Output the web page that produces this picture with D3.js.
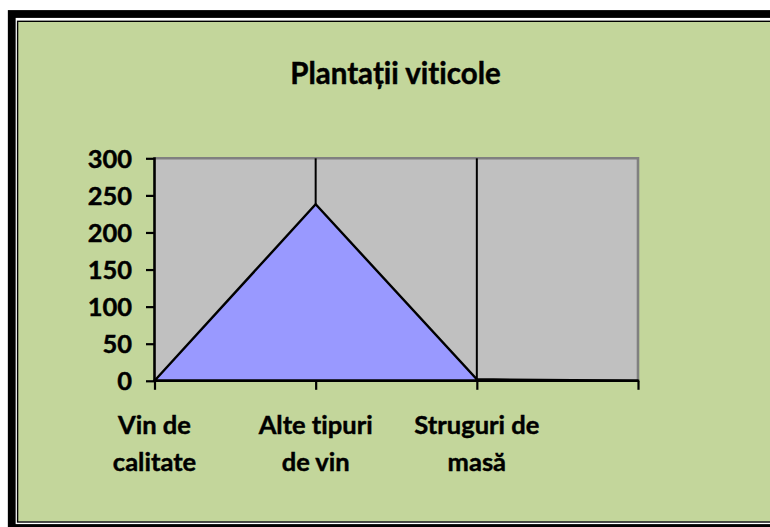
<!DOCTYPE html>
<html>
<head>
<meta charset="utf-8">
<script src="https://cdn.jsdelivr.net/npm/d3@7"></script>
<style>
  html, body { margin: 0; padding: 0; background: #ffffff; }
  svg { display: block; }
  text { font-family: Lato, "Noto Sans", sans-serif; font-weight: 700; fill: #000;
         font-variant-ligatures: none; stroke: #000; stroke-width: 0.45px; }
</style>
</head>
<body>
<svg id="chart" width="770" height="527"></svg>
<script>
// ---- data ----
const title = "Plantații viticole";
const categories = ["Vin de\ncalitate", "Alte tipuri\nde vin", "Struguri de\nmasă", ""];
const values = [0, 238, 2, 0];
const yTicks = [0, 50, 100, 150, 200, 250, 300];
const yMax = 300;

const svg = d3.select("#chart");

// ---- frame (Excel-like thick/thin border) ----
svg.append("rect").attr("x", 18).attr("y", 21.5).attr("width", 770).attr("height", 500)
  .attr("fill", "#C3D69B");
svg.append("rect").attr("x", 11.75).attr("y", 14).attr("width", 800).attr("height", 514)
  .attr("fill", "none").attr("stroke", "#000").attr("stroke-width", 7.8);
svg.append("rect").attr("x", 17.6).attr("y", 21.3).attr("width", 800).attr("height", 500.7)
  .attr("fill", "none").attr("stroke", "#000").attr("stroke-width", 1.4);

// ---- scales ----
const plot = { left: 154.5, right: 638, top: 158.3, bottom: 380.8 };
const x = d3.scalePoint().domain(categories).range([plot.left, plot.right]);
const y = d3.scaleLinear().domain([0, yMax]).range([plot.bottom, plot.top]);

// ---- plot area ----
svg.append("rect")
  .attr("x", plot.left).attr("y", plot.top)
  .attr("width", plot.right - plot.left).attr("height", plot.bottom - plot.top)
  .attr("fill", "#C0C0C0");
svg.append("path")
  .attr("d", `M${plot.left},${plot.top}H${plot.right}V${plot.bottom}`)
  .attr("fill", "none").attr("stroke", "#808080").attr("stroke-width", 2.6);

// ---- area ----
const area = d3.area()
  .x((d, i) => x(categories[i]))
  .y0(y(0))
  .y1(d => y(d));
svg.append("path")
  .datum(values)
  .attr("d", area)
  .attr("fill", "#9999FF")
  .attr("stroke", "#000")
  .attr("stroke-width", 2.4)
  .attr("stroke-linejoin", "miter");

// drop lines from the top of the plot to the interior points
svg.append("g").selectAll("line")
  .data(values.map((v, i) => ({ v, i })).filter(d => d.i > 0 && d.i < values.length - 1))
  .join("line")
  .attr("x1", d => x(categories[d.i])).attr("x2", d => x(categories[d.i]))
  .attr("y1", y(yMax)).attr("y2", d => y(d.v))
  .attr("stroke", "#000").attr("stroke-width", 2);

// ---- axes ----
const yAxis = d3.axisLeft(y).tickValues(yTicks).tickSize(8.5).tickPadding(14).tickFormat(d3.format("d"));
const gy = svg.append("g").attr("transform", `translate(${plot.left},0)`).call(yAxis);
gy.select(".domain").remove();
gy.selectAll(".tick line").attr("stroke", "#000").attr("stroke-width", 2.2);
gy.selectAll(".tick text").attr("font-size", 25.5).attr("font-family", "Lato").attr("font-weight", 700)
  .attr("dy", "0.36em").attr("fill", "#000");
gy.append("line").attr("x1", 0).attr("x2", 0).attr("y1", plot.top - 1).attr("y2", plot.bottom + 1)
  .attr("stroke", "#000").attr("stroke-width", 2.6);

const xAxis = d3.axisBottom(x).tickSize(9).tickFormat("");
const gx = svg.append("g").attr("transform", `translate(0,${plot.bottom})`).call(xAxis);
gx.select(".domain").remove();
gx.selectAll(".tick line").attr("stroke", "#000").attr("stroke-width", 2.2);
gx.append("line").attr("x1", plot.left - 1).attr("x2", plot.right + 1.2).attr("y1", 0).attr("y2", 0)
  .attr("stroke", "#000").attr("stroke-width", 2.6);

// category labels (two lines each)
const labels = svg.append("g").selectAll("text")
  .data(categories)
  .join("text")
  .attr("text-anchor", "middle")
  .attr("font-size", 25.5)
  .attr("x", d => x(d))
  .attr("y", 434);
labels.each(function(d) {
  const lines = d.split("\n");
  d3.select(this).selectAll("tspan").data(lines).join("tspan")
    .attr("x", x(d))
    .attr("dy", (l, i) => i === 0 ? 0 : 36.7)
    .text(l => l);
});

// ---- title ----
svg.append("text")
  .attr("x", 395.5).attr("y", 84)
  .attr("text-anchor", "middle")
  .attr("font-size", 29.5)
  .text(title);
</script>
</body>
</html>
